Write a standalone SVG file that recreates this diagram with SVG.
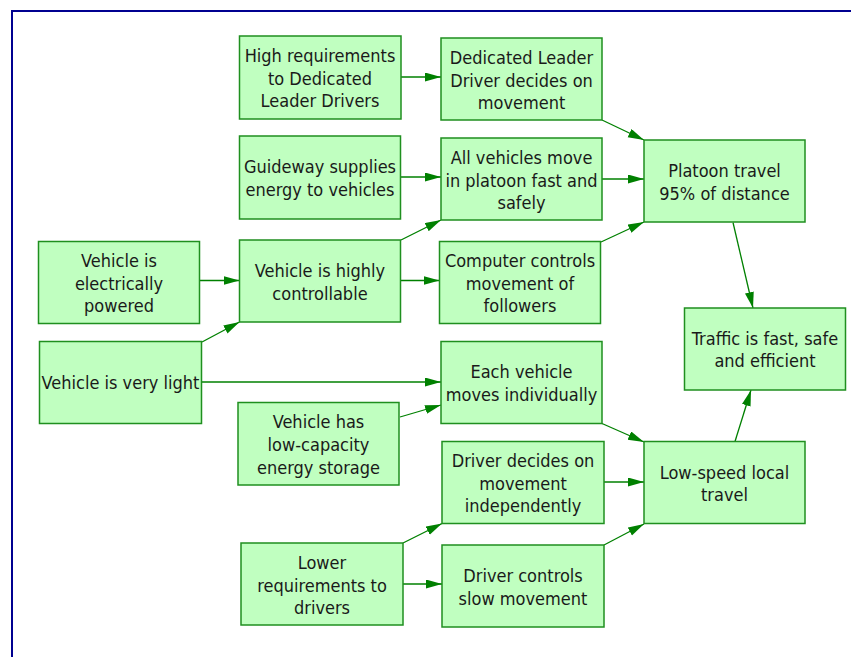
<svg xmlns="http://www.w3.org/2000/svg" width="851" height="657" viewBox="0 0 851 657">
  <style>
    .node rect { fill: #C0FFC0; stroke: #1F8F1F; stroke-width: 1.5; }
    .node text { font-family: "DejaVu Sans Condensed", "DejaVu Sans", sans-serif; font-size: 18px; fill: #1A1A1A; text-anchor: middle; font-stretch: condensed; }
    .edges line { stroke: #008000; stroke-width: 1.3; marker-end: url(#arrow); }
  </style>
  <defs>
    <marker id="arrow" markerUnits="userSpaceOnUse" markerWidth="17" markerHeight="10" refX="16" refY="4.5" orient="auto">
      <path d="M0,0 L16,4.5 L0,9 z" fill="#008000"/>
    </marker>
  </defs>

  <rect x="12" y="11" width="860" height="670" fill="#FFFFFF" stroke="#000090" stroke-width="2"/>

  <g class="edges">
    <line x1="401" y1="77" x2="441" y2="77"/>
    <line x1="602" y1="120" x2="644" y2="140"/>
    <line x1="401" y1="177" x2="441" y2="177"/>
    <line x1="602" y1="179" x2="644" y2="179"/>
    <line x1="601" y1="242" x2="644" y2="222"/>
    <line x1="200" y1="280.5" x2="239.5" y2="280.5"/>
    <line x1="202" y1="342" x2="239.5" y2="322"/>
    <line x1="401" y1="240" x2="441" y2="220"/>
    <line x1="401" y1="280.5" x2="439.5" y2="280.5"/>
    <line x1="202" y1="382" x2="441" y2="382"/>
    <line x1="400" y1="417" x2="441" y2="405"/>
    <line x1="602" y1="423.5" x2="644" y2="442"/>
    <line x1="604" y1="482" x2="644" y2="482"/>
    <line x1="604" y1="545" x2="644" y2="524"/>
    <line x1="403" y1="543" x2="442" y2="523.5"/>
    <line x1="403" y1="584" x2="442" y2="584"/>
    <line x1="733" y1="222.5" x2="753" y2="308"/>
    <line x1="735" y1="441.5" x2="751" y2="390"/>
  </g>

  <g id="high-requirements" class="node">
    <rect x="239.5" y="36" width="161.5" height="83"/>
    <text x="320" y="62">High requirements</text>
    <text x="320" y="85">to Dedicated</text>
    <text x="320" y="107">Leader Drivers</text>
  </g>
  <g id="leader-decides" class="node">
    <rect x="441" y="38" width="161" height="82"/>
    <text x="521.5" y="64">Dedicated Leader</text>
    <text x="521.5" y="86.5">Driver decides on</text>
    <text x="521.5" y="109">movement</text>
  </g>
  <g id="guideway-energy" class="node">
    <rect x="239.5" y="136" width="161" height="83"/>
    <text x="320" y="173">Guideway supplies</text>
    <text x="320" y="196">energy to vehicles</text>
  </g>
  <g id="platoon-move" class="node">
    <rect x="441" y="138" width="161" height="82"/>
    <text x="521.5" y="164">All vehicles move</text>
    <text x="521.5" y="186.5">in platoon fast and</text>
    <text x="521.5" y="209">safely</text>
  </g>
  <g id="platoon-travel" class="node">
    <rect x="644" y="140" width="161" height="82"/>
    <text x="724.5" y="177">Platoon travel</text>
    <text x="724.5" y="200">95% of distance</text>
  </g>
  <g id="electric" class="node">
    <rect x="38.5" y="241.5" width="161" height="82"/>
    <text x="119" y="267">Vehicle is</text>
    <text x="119" y="290">electrically</text>
    <text x="119" y="312">powered</text>
  </g>
  <g id="controllable" class="node">
    <rect x="239.5" y="240" width="161" height="82"/>
    <text x="320" y="277">Vehicle is highly</text>
    <text x="320" y="300">controllable</text>
  </g>
  <g id="computer-controls" class="node">
    <rect x="439.5" y="241.5" width="161" height="82"/>
    <text x="520" y="267">Computer controls</text>
    <text x="520" y="290">movement of</text>
    <text x="520" y="312">followers</text>
  </g>
  <g id="very-light" class="node">
    <rect x="39.5" y="341.5" width="162" height="82"/>
    <text x="120.5" y="389">Vehicle is very light</text>
  </g>
  <g id="traffic" class="node">
    <rect x="684.5" y="308" width="161" height="82"/>
    <text x="765" y="345">Traffic is fast, safe</text>
    <text x="765" y="367">and efficient</text>
  </g>
  <g id="individual" class="node">
    <rect x="441" y="341.5" width="161" height="82"/>
    <text x="521.5" y="378">Each vehicle</text>
    <text x="521.5" y="401">moves individually</text>
  </g>
  <g id="low-capacity" class="node">
    <rect x="238" y="402.5" width="161" height="82.5"/>
    <text x="318.5" y="428">Vehicle has</text>
    <text x="318.5" y="451">low-capacity</text>
    <text x="318.5" y="474">energy storage</text>
  </g>
  <g id="low-speed" class="node">
    <rect x="644" y="441.5" width="161" height="82"/>
    <text x="724.5" y="478.5">Low-speed local</text>
    <text x="724.5" y="501">travel</text>
  </g>
  <g id="driver-decides" class="node">
    <rect x="442" y="441.5" width="162" height="82"/>
    <text x="523" y="467">Driver decides on</text>
    <text x="523" y="490">movement</text>
    <text x="523" y="512">independently</text>
  </g>
  <g id="lower-requirements" class="node">
    <rect x="241" y="543" width="162" height="82"/>
    <text x="322" y="569">Lower</text>
    <text x="322" y="591.5">requirements to</text>
    <text x="322" y="614">drivers</text>
  </g>
  <g id="driver-controls" class="node">
    <rect x="442" y="545" width="162" height="82"/>
    <text x="523" y="582">Driver controls</text>
    <text x="523" y="605">slow movement</text>
  </g>
</svg>
